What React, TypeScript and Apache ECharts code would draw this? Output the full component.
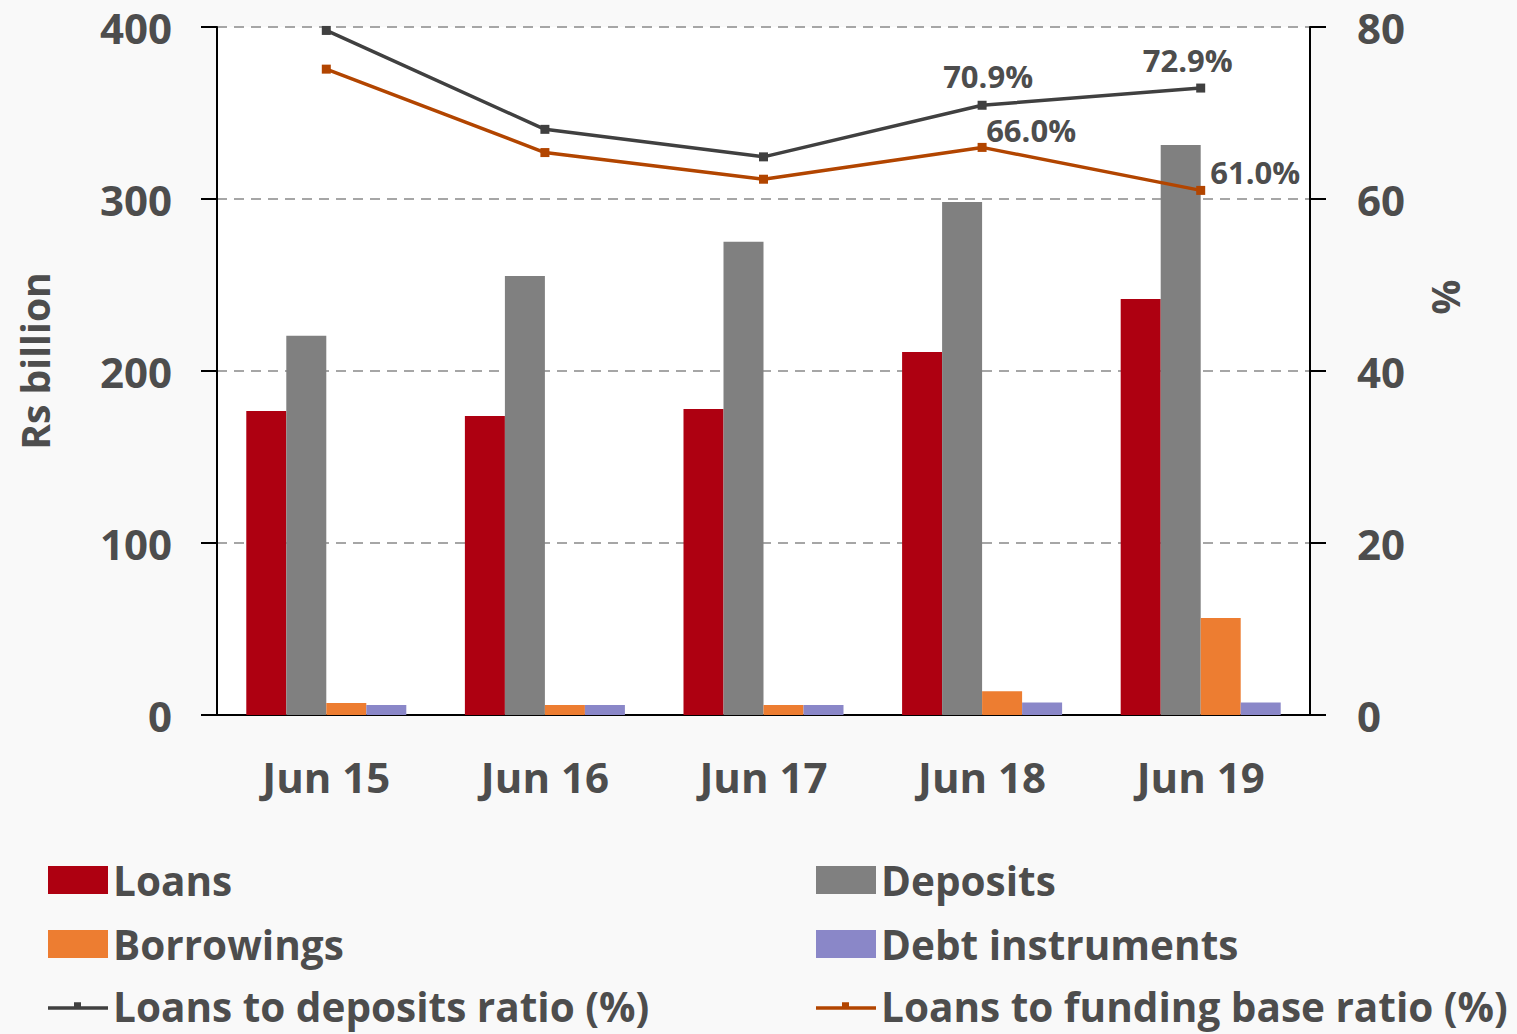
import React, { useEffect, useRef } from "react";
import * as echarts from "echarts";

const categories = ["Jun 15", "Jun 16", "Jun 17", "Jun 18", "Jun 19"];
const loans = [176.7, 173.8, 177.9, 211.0, 241.9];
const deposits = [220.5, 255.2, 275.2, 298.3, 331.4];
const borrowings = [7.0, 5.8, 5.8, 13.8, 56.4];
const debtInstruments = [5.8, 5.8, 5.8, 7.2, 7.2];
const loansToDeposits = [79.6, 68.1, 64.9, 70.9, 72.9];
const loansToFunding = [75.1, 65.4, 62.3, 66.0, 61.0];
const leftTicks = { min: 0, max: 400, interval: 100 };
const rightTicks = { min: 0, max: 80, interval: 20 };

const FONT = "'Open Sans', sans-serif";
const TEXT = "#4d4d4d";
const C_LOANS = "#ae0011";
const C_DEP = "#808080";
const C_BOR = "#ed7d31";
const C_DEBT = "#8a87c8";
const C_LDR = "#404040";
const C_LFB = "#b24500";

const lineIcon =
  "path://M0,5 L60,5 L60,8.5 L0,8.5 Z M26,1 L33,1 L33,5 L26,5 Z";

export default function App() {
  const ref = useRef<HTMLDivElement>(null);
  useEffect(() => {
    if (!ref.current) return;
    const chart = echarts.init(ref.current, null, { renderer: "svg" });
    const fmt = (v: number) => v.toFixed(1) + "%";
    const labelStyle = {
      show: true,
      fontFamily: FONT,
      fontWeight: 700,
      fontSize: 31,
      color: TEXT,
      formatter: (p: any) => fmt(p.value),
    };
    const ldrData = loansToDeposits.map((v, i) => {
      if (i === 3) return { value: v, label: { ...labelStyle, position: "top", offset: [6, -4] } };
      if (i === 4) return { value: v, label: { ...labelStyle, position: "top", offset: [-13, -3] } };
      return v;
    });
    const lfbData = loansToFunding.map((v, i) => {
      if (i === 3) return { value: v, label: { ...labelStyle, position: "top", offset: [49, 8] } };
      if (i === 4) return { value: v, label: { ...labelStyle, position: "right", offset: [0, -18] } };
      return v;
    });
    const legendText = { fontFamily: FONT, fontWeight: 700, fontSize: 40.5, lineHeight: 44, color: TEXT };
    const mkLegend = (name: string, left: number, top: number, icon: string, color: string) => ({
      data: [{ name, icon, itemStyle: { color } }],
      left,
      top,
      itemWidth: 60,
      itemHeight: 28,
      textStyle: legendText,
      selectedMode: false,
      padding: 0,
    });
    const option: any = {
      animation: false,
      backgroundColor: "#f9f9f9",
      textStyle: { fontFamily: FONT },
      grid: {
        left: 217,
        right: 207,
        top: 27,
        bottom: 319,
        show: true,
        backgroundColor: "#ffffff",
        borderWidth: 0,
      },
      legend: [
        mkLegend("Loans", 48, 858, "rect", C_LOANS),
        mkLegend("Deposits", 816, 858, "rect", C_DEP),
        mkLegend("Borrowings", 48, 922, "rect", C_BOR),
        mkLegend("Debt instruments", 816, 922, "rect", C_DEBT),
        mkLegend("Loans to deposits ratio (%)", 48, 984, lineIcon, C_LDR),
        mkLegend("Loans to funding base ratio (%)", 816, 984, lineIcon, C_LFB),
      ],
      xAxis: {
        type: "category",
        data: categories,
        axisTick: { show: false },
        axisLine: { show: true, lineStyle: { color: "#000", width: 2 } },
        axisLabel: { fontFamily: FONT, fontWeight: 700, fontSize: 42, color: TEXT, margin: 40 },
      },
      yAxis: [
        {
          type: "value",
          ...leftTicks,
          axisLine: { show: true, lineStyle: { color: "#000", width: 2 } },
          axisTick: { show: true, inside: false, length: 16, lineStyle: { color: "#000", width: 2 } },
          axisLabel: { fontFamily: FONT, fontWeight: 700, fontSize: 42, color: TEXT, margin: 45 },
          splitLine: { show: true, lineStyle: { color: "#a6a6a6", width: 2, type: [10, 7] } },
        },
        {
          type: "value",
          ...rightTicks,
          position: "right",
          axisLine: { show: true, lineStyle: { color: "#000", width: 2 } },
          axisTick: { show: true, inside: false, length: 16, lineStyle: { color: "#000", width: 2 } },
          axisLabel: { fontFamily: FONT, fontWeight: 700, fontSize: 42, color: TEXT, margin: 47 },
          splitLine: { show: false },
        },
      ],
      graphic: [
        {
          type: "text",
          x: 34,
          y: 361,
          rotation: Math.PI / 2,
          style: {
            text: "Rs billion",
            fontFamily: FONT,
            fontWeight: 700,
            fontSize: 39,
            fill: TEXT,
            align: "center",
            verticalAlign: "middle",
          },
        },
        {
          type: "text",
          x: 1447,
          y: 297,
          rotation: -Math.PI / 2,
          style: {
            text: "%",
            fontFamily: FONT,
            fontWeight: 700,
            fontSize: 39,
            fill: TEXT,
            align: "center",
            verticalAlign: "middle",
          },
        },
      ],
      series: [
        { name: "Loans", type: "bar", data: loans, itemStyle: { color: C_LOANS }, barGap: "0%", barCategoryGap: "26.8%" },
        { name: "Deposits", type: "bar", data: deposits, itemStyle: { color: C_DEP }, barGap: "0%", barCategoryGap: "26.8%" },
        { name: "Borrowings", type: "bar", data: borrowings, itemStyle: { color: C_BOR }, barGap: "0%", barCategoryGap: "26.8%" },
        { name: "Debt instruments", type: "bar", data: debtInstruments, itemStyle: { color: C_DEBT }, barGap: "0%", barCategoryGap: "26.8%" },
        {
          name: "Loans to deposits ratio (%)",
          type: "line",
          yAxisIndex: 1,
          data: ldrData,
          symbol: "rect",
          symbolSize: 9,
          lineStyle: { color: C_LDR, width: 3.5 },
          itemStyle: { color: C_LDR },
          label: { show: false },
          z: 5,
        },
        {
          name: "Loans to funding base ratio (%)",
          type: "line",
          yAxisIndex: 1,
          data: lfbData,
          symbol: "rect",
          symbolSize: 9,
          lineStyle: { color: C_LFB, width: 3.5 },
          itemStyle: { color: C_LFB },
          label: { show: false },
          z: 5,
        },
      ],
    };
    chart.setOption(option);
    return () => chart.dispose();
  }, []);
  return (
    <div
      ref={ref}
      style={{ position: "fixed", left: 0, top: 0, width: 1517, height: 1034 }}
    />
  );
}
